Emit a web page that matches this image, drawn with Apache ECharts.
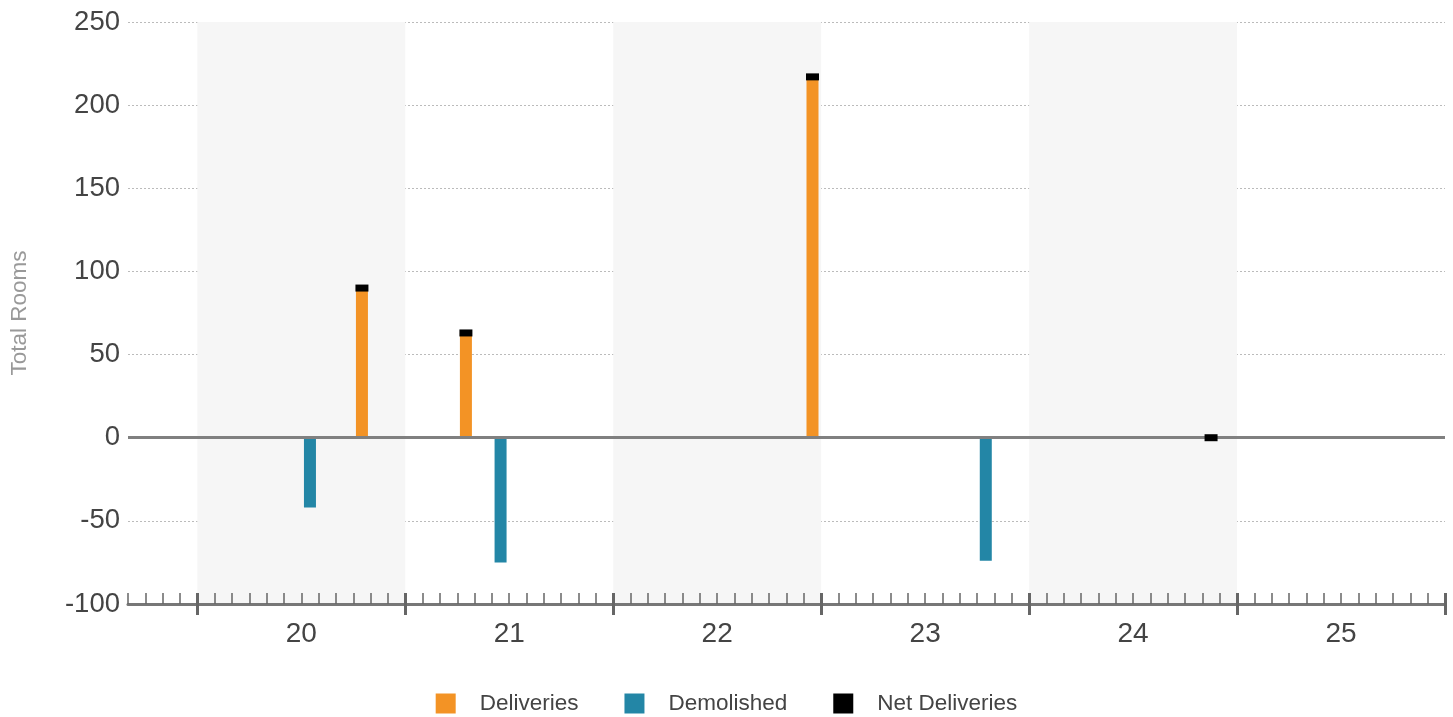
<!DOCTYPE html>
<html>
<head>
<meta charset="utf-8">
<script src="https://cdn.jsdelivr.net/npm/echarts@6/dist/echarts.min.js"></script>
<style>
  html, body { margin: 0; padding: 0; background: #ffffff; }
  #chart { width: 1453px; height: 717px; }
</style>
</head>
<body>
<div id="chart"></div>
<script>
// ---- categories (monthly, Sep 2019 .. Dec 2025) ----
const months = [
  '2019-09','2019-10','2019-11','2019-12',
  '2020-01','2020-02','2020-03','2020-04','2020-05','2020-06','2020-07','2020-08','2020-09','2020-10','2020-11','2020-12',
  '2021-01','2021-02','2021-03','2021-04','2021-05','2021-06','2021-07','2021-08','2021-09','2021-10','2021-11','2021-12',
  '2022-01','2022-02','2022-03','2022-04','2022-05','2022-06','2022-07','2022-08','2022-09','2022-10','2022-11','2022-12',
  '2023-01','2023-02','2023-03','2023-04','2023-05','2023-06','2023-07','2023-08','2023-09','2023-10','2023-11','2023-12',
  '2024-01','2024-02','2024-03','2024-04','2024-05','2024-06','2024-07','2024-08','2024-09','2024-10','2024-11','2024-12',
  '2025-01','2025-02','2025-03','2025-04','2025-05','2025-06','2025-07','2025-08','2025-09','2025-10','2025-11','2025-12'
];
const yearLabels = ['20', '21', '22', '23', '24', '25'];
const shadedYears = ['2020', '2022', '2024'];

// ---- series values ----
const deliveryMonths = ['2020-10', '2021-04', '2022-12'];
const deliveryValues = [90, 63, 217];
const demolishedMonths = ['2020-07', '2021-06', '2023-10'];
const demolishedValues = [-42, -75, -74];
const netMonths = ['2020-10', '2021-04', '2022-12', '2024-11'];
const netValues = [90, 63, 217, 0];

// ---- y axis ticks ----
const yMin = -100, yMax = 250, yStep = 50;

function spread(keys, vals) {
  const arr = months.map(() => null);
  keys.forEach((k, i) => { arr[months.indexOf(k)] = vals[i]; });
  return arr;
}

// boundary axis: one point per month boundary (start of each month + end)
const boundaries = months.concat(['end']);

const FONT = "'Liberation Sans', Arial, sans-serif";
const AXIS_COLOR = '#777777';
const TEXT_COLOR = '#444444';

const chart = echarts.init(document.getElementById('chart'), null, { renderer: 'canvas' });

const bandAreas = shadedYears.map(y => [
  { xAxis: y + '-01' },
  { xAxis: (parseInt(y) + 1) + '-01' }
]);

const option = {
  animation: false,
  backgroundColor: '#ffffff',
  textStyle: { fontFamily: FONT },
  grid: { left: 126, right: 8, top: 22, bottom: 113, containLabel: false },
  legend: {
    data: ['Deliveries', 'Demolished', 'Net Deliveries'],
    top: 687,
    left: 'center',
    icon: 'rect',
    itemWidth: 20,
    itemHeight: 20,
    itemGap: 46,
    selectedMode: false,
    textStyle: { fontSize: 22.5, color: TEXT_COLOR, fontFamily: FONT, padding: [0, 0, 0, 19] }
  },
  xAxis: [
    {
      type: 'category',
      data: months,
      position: 'bottom',
      boundaryGap: true,
      z: 10,
      axisLine: { show: true, onZero: false, lineStyle: { color: AXIS_COLOR, width: 3 } },
      axisTick: { show: true, inside: true, length: 11, interval: 0, lineStyle: { color: '#666666', width: 1.5 } },
      axisLabel: { show: false },
      splitLine: { show: false }
    },
    {
      type: 'category',
      data: boundaries,
      position: 'bottom',
      boundaryGap: false,
      z: 10,
      axisLine: { show: false, onZero: false },
      axisTick: {
        show: true, inside: true, length: 11,
        interval: (i, v) => (v === 'end' || /-01$/.test(v)),
        lineStyle: { color: '#666666', width: 3 }
      },
      axisLabel: { show: false },
      splitLine: { show: false }
    },
    {
      type: 'category',
      data: boundaries,
      position: 'bottom',
      boundaryGap: false,
      z: 10,
      axisLine: { show: false, onZero: false },
      axisTick: {
        show: true, inside: false, length: 11,
        interval: (i, v) => (v === 'end' || /-01$/.test(v)),
        lineStyle: { color: '#666666', width: 3 }
      },
      axisLabel: {
        show: true,
        interval: (i, v) => /-07$/.test(v),
        formatter: (v) => yearLabels[parseInt(v.slice(0, 4)) - 2020],
        fontSize: 28,
        color: TEXT_COLOR,
        fontFamily: FONT,
        margin: 16
      },
      splitLine: { show: false }
    }
  ],
  yAxis: {
    type: 'value',
    min: yMin,
    max: yMax,
    interval: yStep,
    name: 'Total Rooms',
    nameLocation: 'middle',
    nameGap: 97,
    nameTextStyle: { fontSize: 22.5, color: '#999999', fontFamily: FONT },
    axisLine: { show: false },
    axisTick: { show: false },
    axisLabel: { fontSize: 27.5, color: TEXT_COLOR, fontFamily: FONT, margin: 8 },
    splitLine: { show: true, lineStyle: { color: '#bbbbbb', width: 1, type: [2, 2] } }
  },
  series: [
    {
      name: 'bands',
      type: 'line',
      xAxisIndex: 1,
      data: boundaries.map(() => null),
      symbol: 'none',
      silent: true,
      z: -1,
      markArea: {
        silent: true,
        itemStyle: { color: '#f6f6f6' },
        data: bandAreas
      },
      markLine: {
        silent: true,
        symbol: ['none', 'none'],
        label: { show: false },
        lineStyle: { color: '#808080', width: 3, type: 'solid' },
        data: [{ yAxis: 0 }]
      }
    },
    {
      name: 'Deliveries',
      type: 'bar',
      xAxisIndex: 0,
      stack: 'rooms',
      barWidth: 12,
      itemStyle: { color: '#F39325' },
      data: spread(deliveryMonths, deliveryValues),
      z: 3
    },
    {
      name: 'Demolished',
      type: 'bar',
      xAxisIndex: 0,
      stack: 'rooms',
      barWidth: 12,
      itemStyle: { color: '#2386A6' },
      data: spread(demolishedMonths, demolishedValues),
      z: 3
    },
    {
      name: 'Net Deliveries',
      type: 'scatter',
      xAxisIndex: 0,
      symbol: 'rect',
      symbolSize: [13, 7],
      itemStyle: { color: '#000000', opacity: 1 },
      data: spread(netMonths, netValues),
      z: 6
    }
  ]
};

chart.setOption(option);
</script>
</body>
</html>
